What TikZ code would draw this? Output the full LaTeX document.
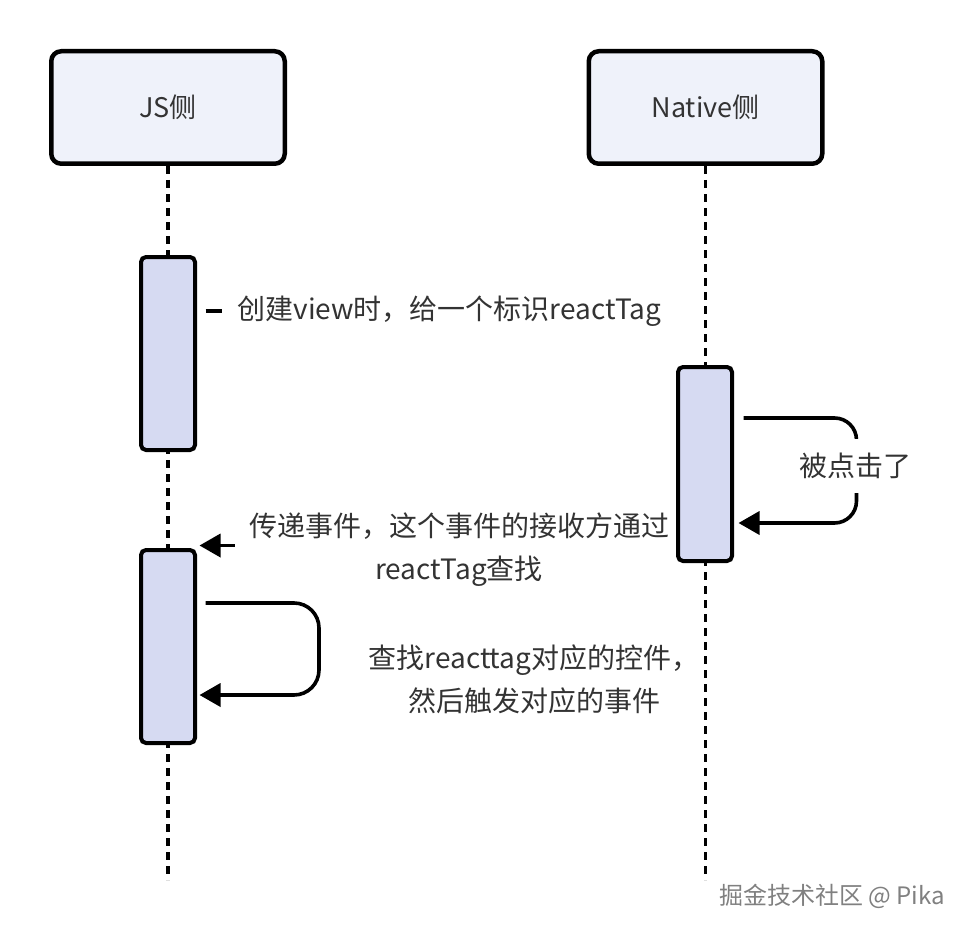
\documentclass[tikz,border=0pt]{standalone}
\usepackage{fontspec}
\setmainfont{Noto Sans CJK SC}
\usetikzlibrary{arrows.meta}
\usetikzlibrary{calc}
\definecolor{headfill}{HTML}{EFF2FA}
\definecolor{actfill}{HTML}{D6DAF2}
\definecolor{txt}{HTML}{333333}

\begin{document}
\begin{tikzpicture}[x=1pt, y=-1pt,
    head/.style={draw, line width=4.5pt, rounded corners=10pt, fill=headfill, minimum width=233.5pt, minimum height=112.5pt, text=txt, font=\fontsize{27}{32}\selectfont},
    act/.style={draw, line width=4pt, rounded corners=5pt, fill=actfill, minimum width=54pt},
    life/.style={line width=3.5pt, dash pattern=on 8pt off 6pt},
    msg/.style={line width=3.6pt, -{Triangle[length=21pt, width=23pt]}},
    label/.style={text=txt, font=\fontsize{28}{43}\selectfont, align=center}]
    \useasboundingbox (0,0) rectangle (976,936);
    \node[head] (js) at (168,107.5) {JS侧};
    \node[head] (native) at (705.5,107.5) {Native侧};
    \coordinate (jsend) at (168,880);
    \coordinate (nativeend) at (705.5,880);
    \draw[life] (js.south) -- (jsend);
    \draw[life] (native.south) -- (nativeend);
    \node[act, minimum height=193pt] (jsact1) at (168,353.5) {};
    \node[act, minimum height=193pt] (jsact2) at (168,646.5) {};
    \node[act, minimum height=194pt] (nativeact) at (705,464) {};
    \draw[line width=3.6pt] ($(jsact1.east)+(8.5,-42.5)$) -- ($(jsact1.east)+(24.5,-42.5)$);
    \node[label, anchor=west] (createlabel) at (234,311) {创建view时，给一个标识reactTag};
    \draw[msg, rounded corners=22pt] ($(nativeact.east)+(9.5,-46)$) -- ($(nativeact.east)+(122.5,-46)$) -- ($(nativeact.east)+(122.5,59)$) -- ($(nativeact.east)+(4.5,59)$);
    \node[label, fill=white, inner xsep=0pt, inner ysep=14pt] (clicklabel) at (855,466) {被点击了};
    \draw[msg] ($(jsact2.north east)+(37.5,-2.5)$) -- ($(jsact2.north east)+(2.5,-2.5)$);
    \node[label] (passlabel) at (459,550) {传递事件，这个事件的接收方通过\\reactTag查找};
    \draw[msg, rounded corners=25pt] ($(jsact2.east)+(8.5,-43.5)$) -- ($(jsact2.east)+(122,-43.5)$) -- ($(jsact2.east)+(122,48.5)$) -- ($(jsact2.east)+(2.5,48.5)$);
    \node[label] (findlabel) at (534,679.5) {查找reacttag对应的控件，\\然后触发对应的事件};
    \node[text=gray, font=\fontsize{24}{24}\selectfont] (mark) at (832,896) {掘金技术社区 @ Pika};
  \end{tikzpicture}
\end{document}
